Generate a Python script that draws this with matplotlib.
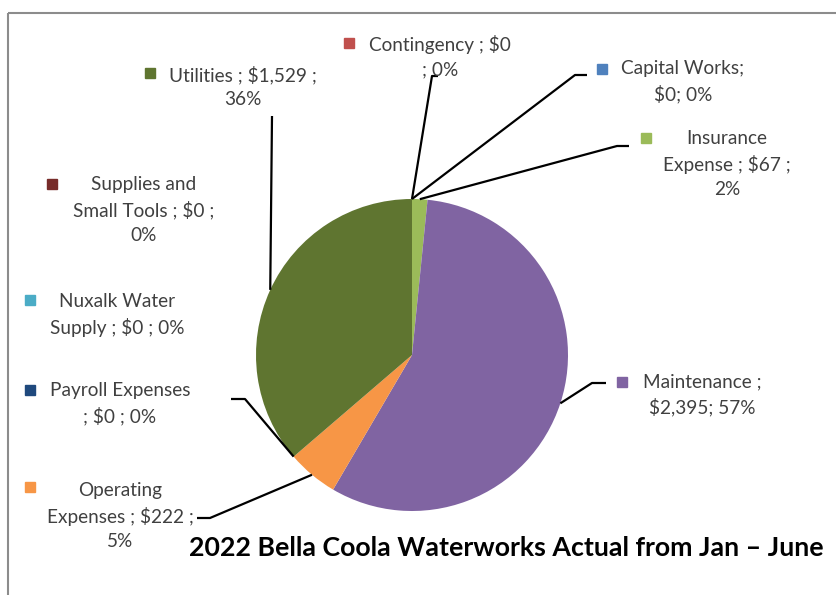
import numpy as np
import matplotlib
matplotlib.use("Agg")
import matplotlib.pyplot as plt
from matplotlib.patches import Rectangle

# ---- data ----
categories = ["Contingency", "Capital Works", "Insurance Expense", "Maintenance",
              "Operating Expenses", "Payroll Expenses", "Nuxalk Water Supply",
              "Supplies and Small Tools", "Utilities"]
values = [0, 0, 67, 2395, 222, 0, 0, 0, 1529]
label_texts = ["Contingency ; $0\n; 0%",
               "Capital Works;\n$0; 0%",
               "Insurance\nExpense ; $67 ;\n2%",
               "Maintenance ;\n$2,395; 57%",
               "Operating\nExpenses ; $222 ;\n5%",
               "Payroll Expenses\n; $0 ; 0%",
               "Nuxalk Water\nSupply ; $0 ; 0%",
               "Supplies and\nSmall Tools ; $0 ;\n0%",
               "Utilities ; $1,529 ;\n36%"]
colors = ["#C0504D", "#4F81BD", "#9BBB59", "#8064A2", "#F79646",
          "#1F497D", "#4BACC6", "#772C2A", "#5F7530"]
title = "2022 Bella Coola Waterworks Actual from Jan \u2013 June"

# ---- layout (pixel coordinates, y down) ----
W, H = 836, 595
cx, cy, R = 412, 355, 156
text_pos = [(440, 57), (683, 82), (727, 164), (702, 395), (120, 516),
            (120, 404), (117, 315), (144, 210), (243, 87)]
marker_pos = [(349, 43), (602, 69), (646, 138), (622, 382), (30, 487),
              (30, 390), (30, 300), (52, 184), (150, 73)]
# elbow and end points of leader lines (None = no leader line)
leaders = [((432, 76), (438, 76)), ((575, 75), (587, 75)), ((617, 146), (629, 146)),
           ((592, 383), (606, 383)), ((210, 518), (197, 518)), ((245, 399), (231, 399)),
           None, None, ((272, 116), (272, 116))]

plt.rcParams['font.family'] = ['Lato', 'DejaVu Sans']
fig = plt.figure(figsize=(W / 100, H / 100), dpi=100)
ax = fig.add_axes([0, 0, 1, 1])

ax.pie(values, colors=colors, center=(cx, cy), radius=R, startangle=-90,
       counterclock=True, wedgeprops=dict(linewidth=0), frame=True)
ax.set_xlim(0, W)
ax.set_ylim(H, 0)
ax.set_aspect('equal')
ax.axis('off')

# frame border
ax.add_patch(Rectangle((8, 13), 900, 700, fill=False, edgecolor='#8c8c8c', lw=1.5,
                       clip_on=True))

total = float(sum(values))
cum = np.cumsum([0] + values)
for i, (txt, col) in enumerate(zip(label_texts, colors)):
    mid = (cum[i] + values[i] / 2) / total
    theta = np.deg2rad(-90 + 360 * mid)
    sx, sy = cx + R * np.cos(theta), cy + R * np.sin(theta)
    if leaders[i] is not None:
        (ex, ey), (fx, fy) = leaders[i]
        ax.plot([sx, ex, fx], [sy, ey, fy], color='black', lw=1.6,
                solid_capstyle='butt', zorder=3)
    tx, ty = text_pos[i]
    ax.text(tx, ty, txt, ha='center', va='center', multialignment='center',
            fontsize=13.7, color='#404040', linespacing=1.5, zorder=4)
    mx, my = marker_pos[i]
    ax.plot([mx], [my], marker='s', markersize=7, color=col, linestyle='none', zorder=4)

ax.text(506, 548, title, ha='center', va='center', fontsize=19.3, fontweight='bold',
        color='black')

fig.savefig("out.png", dpi=100)
